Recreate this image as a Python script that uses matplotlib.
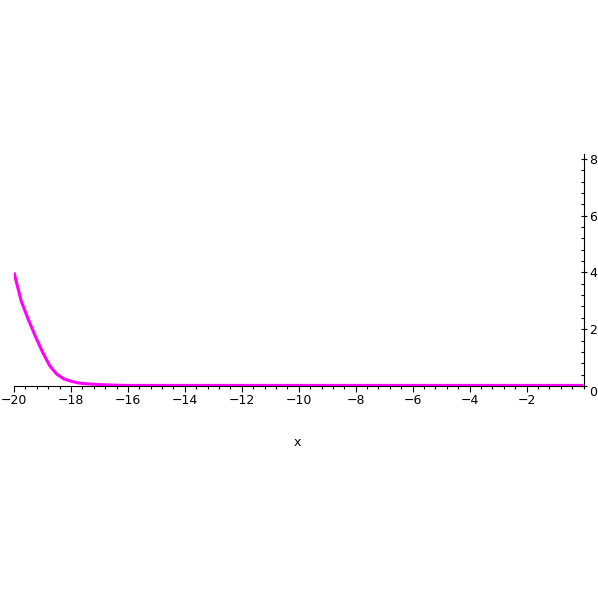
import matplotlib
matplotlib.use("Agg")
import matplotlib.pyplot as plt
from matplotlib.ticker import MultipleLocator, FixedLocator

# curve values
xs = [-20, -19.75, -19.5, -19.25, -19, -18.75, -18.5, -18.25, -18, -17.75,
      -17.5, -17, -16.5, -16, -12, -8, -4, 0]
ys = [4.0, 3.0, 2.35, 1.75, 1.2, 0.72, 0.42, 0.25, 0.17, 0.11,
      0.08, 0.05, 0.03, 0.02, 0.02, 0.02, 0.02, 0.02]

x_ticks = [-20, -18, -16, -14, -12, -10, -8, -6, -4, -2]
y_ticks = [0, 2, 4, 6, 8]

fig = plt.figure(figsize=(5.98, 5.98), dpi=100)
ax = fig.add_axes([14 / 598, (598 - 386) / 598, 569.5 / 598, 232 / 598])

ax.plot(xs, ys, color="#ff00ff", linewidth=2.2, solid_capstyle="butt", zorder=3)

ax.set_xlim(-20, 0)
ax.set_ylim(0, 8.17)

ax.spines["left"].set_visible(False)
ax.spines["top"].set_visible(False)
ax.spines["bottom"].set_linewidth(0.8)
ax.spines["right"].set_linewidth(0.8)

ax.yaxis.tick_right()
ax.xaxis.set_major_locator(FixedLocator(x_ticks))
ax.xaxis.set_minor_locator(MultipleLocator(0.4))
ax.yaxis.set_major_locator(FixedLocator(y_ticks))
ax.yaxis.set_minor_locator(MultipleLocator(0.4))
ax.set_xticklabels(["\u2212" + str(-t) for t in x_ticks])
ax.set_yticklabels([str(t) for t in y_ticks])

ax.tick_params(axis="x", which="major", direction="out", length=4, width=0.8,
               pad=1.5, labelsize=9)
ax.tick_params(axis="x", which="minor", direction="out", length=2, width=0.8)
ax.tick_params(axis="y", which="major", direction="inout", length=5, width=0.8,
               pad=1.5, labelsize=9)
ax.tick_params(axis="y", which="minor", direction="in", length=2, width=0.8)

# the 0 on the y axis sits just below the x axis
for lab in ax.get_yticklabels():
    if lab.get_text() == "0":
        lab.set_verticalalignment("top")

fig.text(297 / 598, 1 - 442 / 598, "x", ha="center", va="center", fontsize=9)

fig.savefig("out.png", dpi=100)
